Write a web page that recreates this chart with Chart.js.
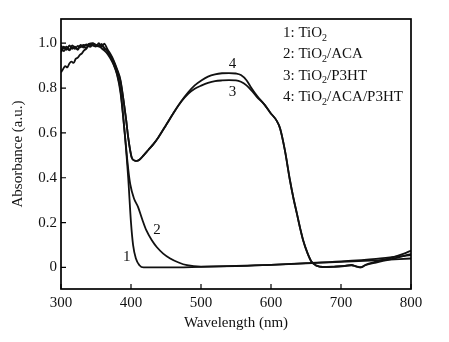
<!DOCTYPE html>
<html>
<head>
<meta charset="utf-8">
<script src="https://cdn.jsdelivr.net/npm/chart.js@4.4.1/dist/chart.umd.min.js"></script>
<style>
  html, body { margin: 0; padding: 0; background: #fff; }
  canvas { display: block; }
</style>
</head>
<body>
<canvas id="c" width="449" height="342"></canvas>
<script>
// UV-vis absorbance spectra (wavelength in nm, normalised absorbance)
const wl1 = [300,304,308,312,316,320,324,328,332,336,340,345,350,355,360,365,370,375,380,385,391,396,400,403,407,412,418,450,500,550,600,650,700,750,800];
const abs1 = [0.975,0.965,0.978,0.968,0.982,0.975,0.988,0.982,0.992,0.99,0.997,1.0,0.993,0.985,0.972,0.958,0.935,0.905,0.86,0.78,0.6,0.4,0.2,0.1,0.04,0.01,0.0,0.0,0.003,0.007,0.012,0.018,0.025,0.032,0.04];

const wl2 = [300,304,308,312,316,320,324,328,332,336,340,345,350,355,360,364,368,372,376,380,385,391,396,399,404,410,416,422,430,437,446,456,468,480,500,550,600,650,700,750,800];
const abs2 = [0.96,0.985,0.97,0.99,0.975,0.985,0.97,0.992,0.98,0.995,0.985,0.998,0.99,0.99,0.985,0.972,0.955,0.93,0.9,0.865,0.79,0.6,0.44,0.37,0.31,0.27,0.215,0.165,0.12,0.09,0.062,0.04,0.022,0.01,0.004,0.006,0.012,0.019,0.027,0.038,0.055];

const wl3 = [300,303,306,309,312,315,318,321,324,327,330,333,336,339,342,346,350,355,358,362,366,370,375,380,385,390,393,396,401,405,408,412,418,425,432,439,451,463,472,482,491,501,510,520,530,540,550,557,565,572,580,591,599,608,613,620,627,632,637,642,646,652,658,665,674,690,705,715,722,728,735,750,770,790,800];
const abs3 = [0.87,0.885,0.898,0.892,0.91,0.918,0.912,0.93,0.936,0.948,0.955,0.968,0.975,0.988,0.984,0.998,0.99,0.985,0.997,0.975,0.968,0.95,0.92,0.88,0.83,0.73,0.66,0.58,0.49,0.477,0.475,0.48,0.5,0.525,0.55,0.58,0.64,0.7,0.74,0.775,0.797,0.812,0.823,0.831,0.834,0.835,0.834,0.828,0.812,0.79,0.76,0.725,0.69,0.655,0.62,0.52,0.39,0.31,0.24,0.17,0.12,0.065,0.025,0.008,0.002,0.003,0.006,0.01,0.004,0.0,0.01,0.022,0.036,0.052,0.06];

const wl4 = [300,304,308,312,316,320,324,328,332,336,340,345,350,354,358,362,366,370,375,380,385,390,393,396,401,405,408,412,418,425,432,439,451,463,472,482,491,501,510,520,530,540,550,557,565,572,580,591,599,608,613,620,627,632,637,642,646,652,658,665,674,690,705,715,722,728,735,750,770,790,800];
const abs4 = [0.99,0.975,0.985,0.97,0.99,0.98,0.975,0.99,0.985,0.978,0.995,0.99,0.985,1.0,0.985,0.998,0.975,0.955,0.925,0.885,0.835,0.73,0.66,0.58,0.49,0.477,0.475,0.48,0.5,0.525,0.55,0.58,0.64,0.7,0.742,0.782,0.812,0.835,0.851,0.861,0.866,0.867,0.865,0.858,0.835,0.8,0.765,0.725,0.69,0.655,0.62,0.52,0.39,0.31,0.24,0.17,0.12,0.065,0.025,0.008,0.002,0.004,0.007,0.011,0.005,0.001,0.012,0.026,0.042,0.062,0.075];

const xTicks = [300, 400, 500, 600, 700, 800];
const yTicks = [0, 0.2, 0.4, 0.6, 0.8, 1.0];

// curve numbers placed next to each trace: [label, wavelength, absorbance]
const curveTags = [["1", 394, 0.047], ["2", 437, 0.166], ["3", 545, 0.78], ["4", 545, 0.907]];

// legend entries: prefix, subscript, suffix
const legendItems = [["1: TiO", "2", ""], ["2: TiO", "2", "/ACA"], ["3: TiO", "2", "/P3HT"], ["4: TiO", "2", "/ACA/P3HT"]];

const FONT = '"Liberation Serif", "Times New Roman", serif';

const toPts = (xs, ys) => xs.map((x, i) => ({ x: x, y: ys[i] }));

const lineStyle = {
  borderColor: '#111',
  borderWidth: 1.8,
  pointRadius: 0,
  fill: false,
  cubicInterpolationMode: 'monotone'
};

const decorations = {
  id: 'decorations',
  beforeDraw(chart) {
    const ctx = chart.ctx;
    ctx.save();
    ctx.fillStyle = '#fff';
    ctx.fillRect(0, 0, chart.width, chart.height);
    ctx.restore();
  },
  afterDraw(chart) {
    const ctx = chart.ctx;
    const a = chart.chartArea;
    const xs = chart.scales.x, ys = chart.scales.y;
    ctx.save();
    // frame
    ctx.strokeStyle = '#000';
    ctx.lineWidth = 1.7;
    ctx.strokeRect(a.left, a.top, a.right - a.left, a.bottom - a.top);
    // inward ticks
    ctx.lineWidth = 1.2;
    ctx.beginPath();
    xTicks.forEach(v => {
      const p = xs.getPixelForValue(v);
      ctx.moveTo(p, a.bottom);
      ctx.lineTo(p, a.bottom - 5);
    });
    yTicks.forEach(v => {
      const p = ys.getPixelForValue(v);
      ctx.moveTo(a.left, p);
      ctx.lineTo(a.left + 5, p);
    });
    ctx.stroke();

    // curve numbers
    ctx.fillStyle = '#111';
    ctx.font = '15px ' + FONT;
    ctx.textAlign = 'center';
    ctx.textBaseline = 'middle';
    curveTags.forEach(([t, x, y]) => {
      ctx.fillText(t, xs.getPixelForValue(x), ys.getPixelForValue(y));
    });

    // legend text with subscripts
    ctx.textAlign = 'left';
    ctx.textBaseline = 'middle';
    const lx = a.left + 222;
    let ly = a.top + 14;
    legendItems.forEach(([pre, sub, post]) => {
      ctx.font = '15px ' + FONT;
      ctx.fillText(pre, lx, ly);
      let w = ctx.measureText(pre).width;
      ctx.font = '10px ' + FONT;
      ctx.fillText(sub, lx + w, ly + 5);
      w += ctx.measureText(sub).width;
      ctx.font = '15px ' + FONT;
      ctx.fillText(post, lx + w, ly);
      ly += 21.3;
    });
    ctx.restore();
  }
};

new Chart(document.getElementById('c'), {
  type: 'line',
  data: {
    datasets: [
      Object.assign({ label: 'TiO2', data: toPts(wl1, abs1) }, lineStyle),
      Object.assign({ label: 'TiO2/ACA', data: toPts(wl2, abs2) }, lineStyle),
      Object.assign({ label: 'TiO2/P3HT', data: toPts(wl3, abs3) }, lineStyle),
      Object.assign({ label: 'TiO2/ACA/P3HT', data: toPts(wl4, abs4) }, lineStyle)
    ]
  },
  options: {
    responsive: false,
    animation: false,
    layout: { padding: { left: 0, top: 19, right: 38, bottom: 0 } },
    plugins: { legend: { display: false }, tooltip: { enabled: false } },
    scales: {
      x: {
        type: 'linear',
        min: 300, max: 800,
        afterBuildTicks: s => { s.ticks = xTicks.map(v => ({ value: v })); },
        afterFit: s => { s.height = 53; },
        grid: { display: false, drawTicks: false },
        border: { display: false },
        ticks: { color: '#111', padding: 5, maxRotation: 0, font: { family: FONT, size: 15 }, callback: v => String(v) },
        title: { display: true, text: 'Wavelength (nm)', color: '#111', font: { family: FONT, size: 15 }, padding: { top: 0, bottom: 10 } }
      },
      y: {
        type: 'linear',
        min: -0.096, max: 1.108,
        afterBuildTicks: s => { s.ticks = yTicks.map(v => ({ value: v })); },
        afterFit: s => { s.width = 61; },
        grid: { display: false, drawTicks: false },
        border: { display: false },
        ticks: { color: '#111', padding: 4, font: { family: FONT, size: 15 }, callback: v => (v === 0 ? '0' : v.toFixed(1)) },
        title: { display: true, text: 'Absorbance (a.u.)', color: '#111', font: { family: FONT, size: 15 }, padding: { top: 9, bottom: 0 } }
      }
    }
  },
  plugins: [decorations]
});
</script>
</body>
</html>
